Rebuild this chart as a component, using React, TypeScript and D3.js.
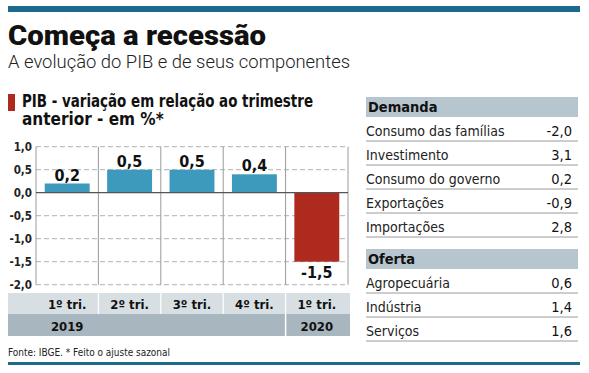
import React from 'react';
import * as d3 from 'd3';

const quarters = ['1º tri.', '2º tri.', '3º tri.', '4º tri.', '1º tri.'];
const pibValues = [0.2, 0.5, 0.5, 0.4, -1.5];
const years = [
  { label: '2019', first: 0, last: 3 },
  { label: '2020', first: 4, last: 4 },
];
const yTicks = [1, 0.5, 0, -0.5, -1, -1.5, -2];

const demandaNames = ['Consumo das famílias', 'Investimento', 'Consumo do governo', 'Exportações', 'Importações'];
const demandaValues = [-2.0, 3.1, 0.2, -0.9, 2.8];
const ofertaNames = ['Agropecuária', 'Indústria', 'Serviços'];
const ofertaValues = [0.6, 1.4, 1.6];

const fmt = (v: number) => v.toFixed(1).replace('.', ',');

const BLUE = '#3d9abd';
const RED = '#ae2a1f';
const narrow = '"Liberation Sans Narrow", "DejaVu Sans Condensed", sans-serif';

export default () => {
  const width = 589;
  const height = 373;

  const x = d3.scaleBand<number>()
    .domain(quarters.map((_, i) => i))
    .range([36, 348])
    .paddingInner(0.28)
    .paddingOuter(0.14);
  const y = d3.scaleLinear().domain([-2, 1]).range([284.7, 146.7]);
  const step = x.step();
  const edges = d3.range(quarters.length + 1).map(i => 36 + i * step);

  const rowH = 24;
  const tableX0 = 366;
  const tableX1 = 578;

  const table = (title: string, names: string[], values: number[], top: number) => (
    <g>
      <rect x={tableX0} y={top} width={tableX1 - tableX0} height={20} fill="#b7c6ce" />
      <text x={tableX0 + 2} y={top + 15} fontFamily={narrow} fontWeight="bold" fontSize={14.5} fill="#111">{title}</text>
      {names.map((n, i) => {
        const ry = top + 20 + i * rowH;
        return (
          <g key={n}>
            <text x={tableX0} y={ry + 19} fontFamily={narrow} fontSize={14} fill="#222">{n}</text>
            <text x={572} y={ry + 19} textAnchor="end" fontFamily={narrow} fontSize={14.5}
              fill="#111">{fmt(values[i])}</text>
            <line x1={tableX0} x2={tableX1} y1={ry + rowH} y2={ry + rowH} stroke="#bdbdbd" strokeWidth={1.5} />
          </g>
        );
      })}
    </g>
  );

  return (
    <svg width={width} height={height} style={{ position: 'absolute', left: 0, top: 0, background: '#fff' }}>
      <rect x={8} y={6} width={572} height={6} fill="#1d6a8c" />
      <text x={8} y={45} fontFamily="Roboto, sans-serif" fontWeight={900} fontSize={27} fill="#111"
        textLength={258} lengthAdjust="spacingAndGlyphs">Começa a recessão</text>
      <text x={8} y={68} fontFamily="Roboto, sans-serif" fontWeight={300} fontSize={18.5} fill="#222"
        textLength={342} lengthAdjust="spacingAndGlyphs">A evolução do PIB e de seus componentes</text>

      <rect x={8} y={94} width={7} height={17} fill={RED} />
      <text x={22} y={107} fontFamily={narrow} fontWeight="bold" fontSize={17} fill="#111"
        textLength={291} lengthAdjust="spacingAndGlyphs">PIB - variação em relação ao trimestre</text>
      <text x={22} y={125} fontFamily={narrow} fontWeight="bold" fontSize={17} fill="#111">anterior - em %*</text>

      {yTicks.map(t => (
        <g key={t}>
          {t !== 0 && (
            <line x1={36} x2={348} y1={y(t)} y2={y(t)} stroke="#b0b0b0" strokeDasharray="5,3" />
          )}
          <text x={32} y={y(t) + 4} textAnchor="end" fontFamily={narrow} fontWeight="bold" fontSize={11.5} fill="#222">
            {fmt(t)}
          </text>
        </g>
      ))}
      {edges.map((e, i) => (
        <line key={i} x1={e} x2={e} y1={y(1)} y2={y(-2)} stroke="#9a9a9a" strokeWidth={1} />
      ))}

      {pibValues.map((v, i) => (
        <g key={i}>
          <rect x={x(i)} width={x.bandwidth()} y={y(Math.max(0, v))} height={Math.abs(y(v) - y(0))}
            fill={v < 0 ? RED : BLUE} />
          <text x={(x(i) as number) + x.bandwidth() / 2} y={v < 0 ? y(v) + 16 : y(v) - 3} textAnchor="middle"
            fontFamily={narrow} fontWeight="bold" fontSize={16} fill="#111">{fmt(v)}</text>
        </g>
      ))}
      <line x1={36} x2={348} y1={y(0)} y2={y(0)} stroke="#555" strokeWidth={1.2} />

      <rect x={8} y={293} width={342} height={21} fill="#d7dfe3" />
      <rect x={8} y={314} width={342} height={22} fill="#a8b7bf" />
      {edges.slice(1, quarters.length).map((e, i) => (
        <line key={i} x1={e} x2={e} y1={293} y2={314} stroke="#fff" strokeWidth={1.2} />
      ))}
      {quarters.map((q, i) => (
        <text key={i} x={(x(i) as number) + x.bandwidth() / 2} y={309} textAnchor="middle"
          fontFamily={narrow} fontWeight="bold" fontSize={13} fill="#111">{q}</text>
      ))}
      {years.map(yr => (
        <g key={yr.label}>
          {yr.first > 0 && <line x1={edges[yr.first]} x2={edges[yr.first]} y1={314} y2={336} stroke="#fff" strokeWidth={1.5} />}
          <text x={(x(yr.first) as number) + x.bandwidth() / 2} y={331} textAnchor="middle"
            fontFamily={narrow} fontWeight="bold" fontSize={13} fill="#111">{yr.label}</text>
        </g>
      ))}

      <text x={8} y={356} fontFamily={narrow} fontSize={11} fill="#222"
        textLength={162} lengthAdjust="spacingAndGlyphs">Fonte: IBGE. * Feito o ajuste sazonal</text>
      <rect x={8} y={362} width={572} height={3} fill="#1d6a8c" />

      {table('Demanda', demandaNames, demandaValues, 97)}
      {table('Oferta', ofertaNames, ofertaValues, 249)}
    </svg>
  );
};
